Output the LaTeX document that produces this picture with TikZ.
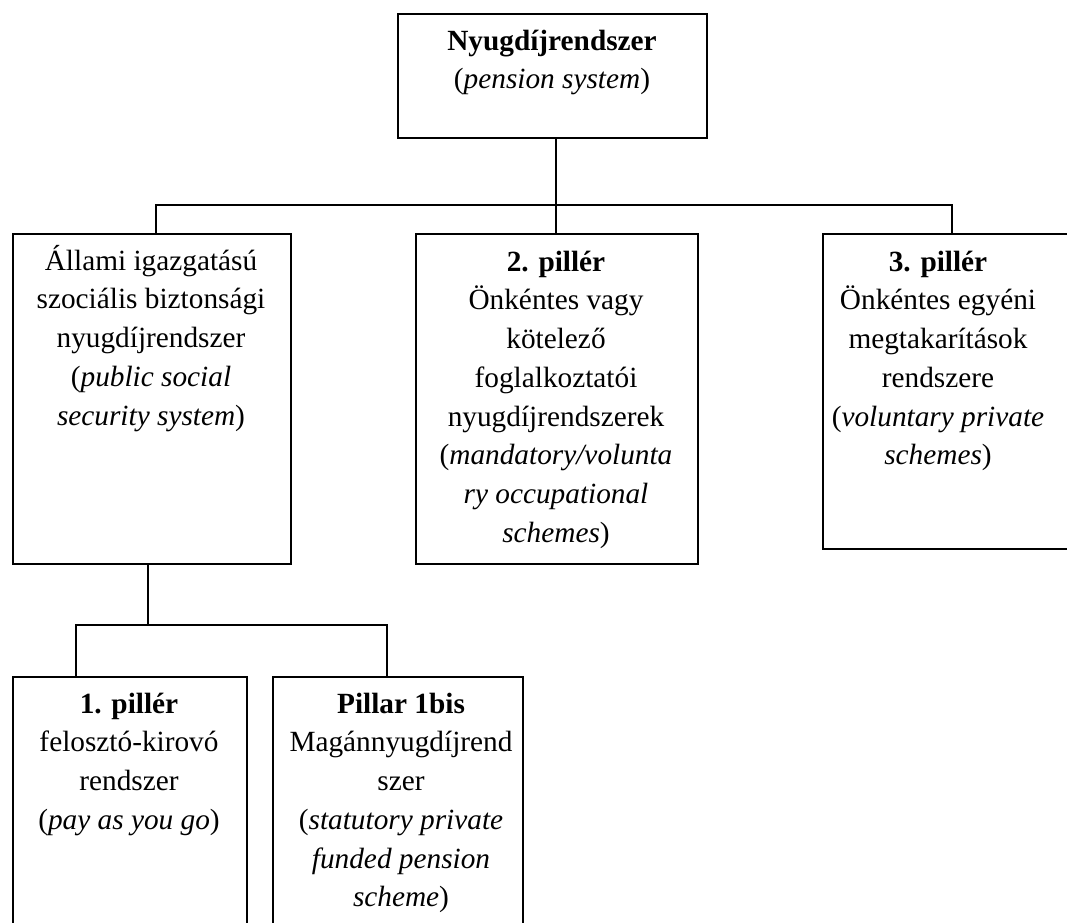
\documentclass[tikz,border=0pt]{standalone}
\usepackage{fontspec}
\setmainfont{Liberation Serif}
\begin{document}
\begin{tikzpicture}[x=1pt,y=-1pt,
  box/.style={draw=black,line width=1.6pt,rectangle,inner sep=0pt,anchor=north west},
  txt/.style={anchor=north,align=center,inner sep=0pt,font=\fontsize{29.3}{38.7}\selectfont},
  conn/.style={draw=black,line width=1.6pt}]
\useasboundingbox (0,0) rectangle (1067,922);
% boxes
\node[box,minimum width=309pt,minimum height=124pt] (top) at (397,13) {};
\node[box,minimum width=278pt,minimum height=330pt] (left) at (12,233) {};
\node[box,minimum width=282pt,minimum height=330pt] (mid) at (415,233) {};
\node[box,minimum width=270pt,minimum height=315pt] (right) at (822,233) {};
\node[box,minimum width=234pt,minimum height=270pt] (b1) at (12,676) {};
\node[box,minimum width=250pt,minimum height=270pt] (b2) at (272,676) {};
% texts
\newcommand{\fs}{\rule{0pt}{26pt}}
\node[txt] (ttop) at (552,24) {\fs\textbf{Nyugdíjrendszer}\\(\textit{pension system})};
\node[txt] (tleft) at (151,244) {\fs Állami igazgatású\\szociális biztonsági\\nyugdíjrendszer\\(\textit{public social}\\\textit{security system})};
\node[txt] (tmid) at (556,245) {\fs\textbf{2. pillér}\\Önkéntes vagy\\kötelező\\foglalkoztatói\\nyugdíjrendszerek\\(\textit{mandatory/volunta}\\\textit{ry occupational}\\\textit{schemes})};
\node[txt] (tright) at (938,245) {\fs\textbf{3. pillér}\\Önkéntes egyéni\\megtakarítások\\rendszere\\(\textit{voluntary private}\\\textit{schemes})};
\node[txt] (tb1) at (129,687) {\fs\textbf{1. pillér}\\felosztó-kirovó\\rendszer\\(\textit{pay as you go})};
\node[txt] (tb2) at (401,687) {\fs\textbf{Pillar 1bis}\\Magánnyugdíjrend\\szer\\(\textit{statutory private}\\\textit{funded pension}\\\textit{scheme})};
% connector coordinates
\coordinate (j) at (556,205);
\coordinate (cL) at (156,205);
\coordinate (cR) at (952,205);
\coordinate (k) at (148,625);
\coordinate (k1) at (76,625);
\coordinate (k2) at (387,625);
% connectors
\draw[conn] (top.south -| j) -- (j);
\draw[conn] (cL |- left.north) -- (cL) -- (cR) -- (cR |- right.north);
\draw[conn] (j) -- (j |- mid.north);
\draw[conn] (left.south -| k) -- (k);
\draw[conn] (k1 |- b1.north) -- (k1) -- (k2) -- (k2 |- b2.north);
\end{tikzpicture}
\end{document}
